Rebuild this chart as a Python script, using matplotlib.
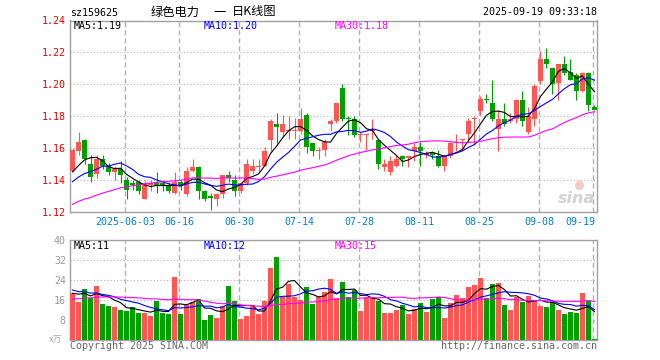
import numpy as np
import pandas as pd
import matplotlib
matplotlib.use("Agg")
import matplotlib.pyplot as plt

plt.rcParams["lines.scale_dashes"] = False
plt.rcParams["font.family"] = ["DejaVu Sans Mono"]
CJK = ["Noto Sans CJK SC", "DejaVu Sans"]

# trading days on the chart (2025-06-02 was a holiday)
dates = pd.bdate_range("2025-05-20", "2025-09-19").drop(pd.Timestamp("2025-06-02"))

opens = [1.146, 1.158, 1.165, 1.150, 1.144, 1.153, 1.149, 1.145, 1.147, 1.140,
         1.138, 1.139, 1.128, 1.137, 1.138, 1.138, 1.137, 1.132, 1.139, 1.131,
         1.146, 1.148, 1.133, 1.130, 1.128, 1.131, 1.143, 1.140, 1.133, 1.138,
         1.146, 1.148, 1.149, 1.165, 1.175, 1.170, 1.171, 1.171, 1.171, 1.181,
         1.163, 1.158, 1.159, 1.175, 1.177, 1.198, 1.179, 1.178, 1.168, 1.168,
         1.171, 1.165, 1.148, 1.145, 1.149, 1.155, 1.154, 1.158, 1.161, 1.156,
         1.157, 1.155, 1.149, 1.155, 1.163, 1.165, 1.169, 1.178, 1.183, 1.191,
         1.188, 1.172, 1.178, 1.177, 1.178, 1.190, 1.170, 1.178, 1.202, 1.216,
         1.210, 1.201, 1.213, 1.208, 1.206, 1.196, 1.207, 1.186]
highs = [1.160, 1.170, 1.166, 1.156, 1.156, 1.156, 1.151, 1.149, 1.152, 1.142,
         1.140, 1.140, 1.140, 1.140, 1.145, 1.140, 1.139, 1.145, 1.140, 1.148,
         1.153, 1.149, 1.134, 1.132, 1.132, 1.143, 1.146, 1.143, 1.139, 1.153,
         1.153, 1.153, 1.161, 1.178, 1.182, 1.181, 1.180, 1.179, 1.185, 1.182,
         1.163, 1.161, 1.166, 1.178, 1.188, 1.200, 1.180, 1.180, 1.170, 1.169,
         1.178, 1.166, 1.153, 1.155, 1.156, 1.156, 1.155, 1.163, 1.164, 1.158,
         1.158, 1.159, 1.156, 1.164, 1.169, 1.166, 1.179, 1.180, 1.193, 1.194,
         1.203, 1.184, 1.188, 1.182, 1.191, 1.196, 1.186, 1.200, 1.221, 1.223,
         1.210, 1.213, 1.218, 1.216, 1.207, 1.208, 1.208, 1.187]
lows = [1.145, 1.156, 1.150, 1.139, 1.141, 1.147, 1.143, 1.140, 1.138, 1.128,
        1.134, 1.131, 1.128, 1.133, 1.132, 1.133, 1.132, 1.131, 1.134, 1.130,
        1.145, 1.128, 1.127, 1.121, 1.124, 1.129, 1.139, 1.130, 1.132, 1.137,
        1.144, 1.145, 1.149, 1.158, 1.163, 1.167, 1.166, 1.166, 1.169, 1.157,
        1.155, 1.153, 1.155, 1.171, 1.176, 1.177, 1.168, 1.167, 1.164, 1.159,
        1.166, 1.147, 1.146, 1.143, 1.148, 1.149, 1.148, 1.152, 1.149, 1.154,
        1.153, 1.148, 1.146, 1.154, 1.158, 1.159, 1.164, 1.162, 1.181, 1.188,
        1.177, 1.158, 1.174, 1.176, 1.176, 1.174, 1.169, 1.174, 1.200, 1.210,
        1.194, 1.190, 1.206, 1.203, 1.190, 1.195, 1.183, 1.184]
closes = [1.159, 1.164, 1.153, 1.142, 1.153, 1.149, 1.145, 1.147, 1.143, 1.134,
          1.137, 1.133, 1.138, 1.138, 1.137, 1.137, 1.133, 1.139, 1.137, 1.146,
          1.148, 1.133, 1.128, 1.129, 1.131, 1.143, 1.141, 1.133, 1.138, 1.150,
          1.149, 1.149, 1.158, 1.177, 1.173, 1.175, 1.171, 1.171, 1.178, 1.161,
          1.158, 1.159, 1.164, 1.177, 1.188, 1.178, 1.178, 1.168, 1.168, 1.169,
          1.172, 1.150, 1.150, 1.152, 1.153, 1.153, 1.155, 1.161, 1.158, 1.157,
          1.156, 1.149, 1.155, 1.163, 1.163, 1.166, 1.177, 1.179, 1.191, 1.190,
          1.178, 1.178, 1.175, 1.178, 1.190, 1.177, 1.180, 1.199, 1.216, 1.213,
          1.200, 1.213, 1.207, 1.203, 1.196, 1.207, 1.187, 1.184]
# volume in 万
volumes = [18.7, 15.3, 20.3, 17.0, 21.6, 14.4, 13.6, 13.1, 12.0, 11.6,
           13.1, 10.7, 10.7, 9.6, 15.7, 10.7, 10.3, 25.1, 10.3, 14.0,
           15.3, 16.3, 8.0, 9.9, 8.8, 13.7, 21.6, 15.7, 8.4, 9.6,
           13.9, 10.4, 15.7, 28.8, 33.2, 17.3, 22.4, 17.3, 16.0, 21.2,
           14.4, 17.3, 19.2, 24.4, 16.9, 23.3, 17.3, 20.0, 11.7, 17.3,
           17.1, 15.7, 10.9, 10.9, 12.0, 14.0, 10.4, 12.3, 14.7, 11.2,
           16.5, 17.1, 8.8, 14.7, 18.0, 16.8, 21.2, 22.0, 24.8, 16.8,
           22.4, 22.8, 14.0, 12.0, 17.3, 15.2, 17.6, 16.0, 13.6, 13.3,
           15.2, 12.0, 10.4, 11.2, 10.8, 18.8, 15.6, 0.4]

# days before the window, only used to start the moving averages
prev_closes = [1.108, 1.110, 1.112, 1.109, 1.111, 1.113, 1.112, 1.111, 1.113,
               1.117, 1.119, 1.121, 1.120, 1.124, 1.126, 1.125, 1.127, 1.128,
               1.126, 1.122, 1.135, 1.131, 1.130, 1.138, 1.130, 1.1445, 1.1352,
               1.1351, 1.1522]
prev_volumes = [12, 13, 14, 11, 15, 13, 12, 14, 16, 15, 14, 17, 15, 16, 18, 14,
                16, 15, 17, 15, 22, 20, 23, 21, 20.5, 17, 19, 22, 16.8]

tick_dates = ["2025-06-03", "2025-06-16", "2025-06-30", "2025-07-14", "2025-07-28",
              "2025-08-11", "2025-08-25", "2025-09-08", "2025-09-19"]
price_ticks = [1.12, 1.14, 1.16, 1.18, 1.20, 1.22, 1.24]
vol_ticks = [8, 16, 24, 32, 40]
price_ma_text = ["MA5:1.19", "MA10:1.20", "MA30:1.18"]
vol_ma_text = ["MA5:11", "MA10:12", "MA30:15"]
title_parts = ["绿色电力", "一", "日K线图"]

RED = "#ff5555"
GREEN = "#00a000"
MA_COLORS = ["black", "#0000ff", "#ff00ff"]
GRID = "#b0b0b0"

opens = np.array(opens)
closes = np.array(closes)
x = np.arange(len(dates))
colors = np.where(closes >= opens, RED, GREEN)


def moving_avg(prev, cur, n):
    s = pd.Series(list(prev) + list(cur)).rolling(n).mean()
    return s.values[len(prev):]


W, H = 660, 360
fig = plt.figure(figsize=(6.6, 3.6), dpi=100)


def fx(px):
    return px / W


def fy(py):
    return 1 - py / H


ax1 = fig.add_axes([fx(70), fy(212), 527 / W, 191.5 / H])
ax2 = fig.add_axes([fx(70), fy(340), 527 / W, 100 / H])

# sina watermark (behind the candles)
ax1.text(0.997, 0.07, "sina", transform=ax1.transAxes, ha="right", va="center",
         fontsize=11.5, family="DejaVu Sans", fontweight="bold", style="italic",
         color="#d2d2d2", zorder=0)
ax1.scatter([0.965], [0.14], s=45, transform=ax1.transAxes, color="#f6caca",
            linewidths=0, zorder=0)

# candles
body_lo = np.minimum(opens, closes)
body_h = np.maximum(np.abs(closes - opens), 0.0006)
ax1.vlines(x, lows, highs, colors=colors, linewidth=0.8, zorder=3)
ax1.bar(x, body_h, bottom=body_lo, width=0.8, color=colors, linewidth=0, zorder=4)
for n, c in zip([5, 10, 30], MA_COLORS):
    ax1.plot(x, moving_avg(prev_closes, closes, n), color=c, lw=0.8, zorder=5)

# volume
ax2.bar(x, volumes, width=0.8, color=colors, linewidth=0, zorder=3)
for n, c in zip([5, 10, 30], MA_COLORS):
    ax2.plot(x, moving_avg(prev_volumes, volumes, n), color=c, lw=0.8, zorder=5)

tick_pos = [dates.get_loc(pd.Timestamp(d)) for d in tick_dates]

for ax in (ax1, ax2):
    ax.set_xlim(-0.42, len(x) - 0.58)
    ax.set_xticks([])
    for p in tick_pos:
        ax.axvline(p - 0.25, color=GRID, lw=1.0, ls=(0, (3.6, 2.2)), zorder=1)
    for s in ax.spines.values():
        s.set_color("#a0a0a0")
        s.set_linewidth(1.0)
    ax.tick_params(axis="y", length=0, pad=3, labelsize=7.2)

ax1.set_ylim(price_ticks[0], price_ticks[-1])
ax1.set_yticks(price_ticks)
ax1.set_yticklabels(["%.2f" % t for t in price_ticks])
ax1.tick_params(axis="y", labelcolor="#e00000")
for t in price_ticks[1:-1]:
    ax1.axhline(t, color=GRID, lw=0.8, ls=(0, (0.8, 1.6)), zorder=1)

ax2.set_ylim(0, 40)
ax2.set_yticks(vol_ticks)
ax2.set_yticklabels([str(t) for t in vol_ticks])
ax2.tick_params(axis="y", labelcolor="#999999")
for t in vol_ticks[:-1]:
    ax2.axhline(t, color=GRID, lw=0.8, ls=(0, (0.8, 1.6)), zorder=1)

# date labels under the price panel
for i, (p, d) in enumerate(zip(tick_pos, tick_dates)):
    lab = d if i == 0 else d[5:]
    ha = "right" if i == len(tick_pos) - 1 else "center"
    xx = p + 0.2 if ha == "right" else p - 0.25
    ax1.text(xx, -0.05, lab, transform=ax1.get_xaxis_transform(), ha=ha, va="center",
             color="#0080d0", fontsize=7.2)

# header and labels
fig.text(fx(70), fy(13), "sz159625", ha="left", va="center", fontsize=7.2)
for txt, px in zip(title_parts, [151, 213, 232]):
    fig.text(fx(px), fy(12), txt, ha="left", va="center", fontsize=8.8, family=CJK)
fig.text(fx(597), fy(12), "2025-09-19 09:33:18", ha="right", va="center", fontsize=7.2)
for txt, c, px in zip(price_ma_text, MA_COLORS, [74, 204, 335]):
    fig.text(fx(px), fy(26), txt, color=c, ha="left", va="center", fontsize=7.2)
for txt, c, px in zip(vol_ma_text, MA_COLORS, [74, 204, 335]):
    fig.text(fx(px), fy(246), txt, color=c, ha="left", va="center", fontsize=7.2)
fig.text(fx(56), fy(340), "x万", ha="center", va="center", fontsize=6.5,
         color="#aaaaaa", family=CJK)
fig.text(fx(70), fy(346), "Copyright 2025 SINA.COM", ha="left", va="center",
         fontsize=7.2, color="#666666")
fig.text(fx(597), fy(346), "http://finance.sina.com.cn", ha="right", va="center",
         fontsize=7.2, color="#666666")

fig.savefig("out.png", dpi=100)
